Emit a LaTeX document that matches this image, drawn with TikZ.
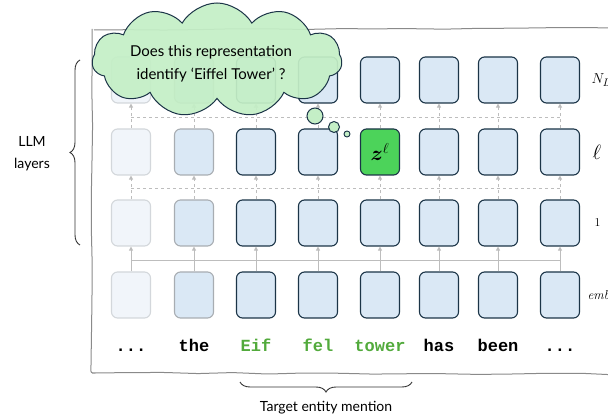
\documentclass[tikz,border=0pt]{standalone}
\usepackage{fontspec}
\usepackage{bm}
\setmonofont{Liberation Mono}
\newfontfamily\sansf[Ligatures=TeX]{Lato}
\usetikzlibrary{shapes.symbols,decorations.pathreplacing,decorations.pathmorphing,arrows.meta}
\definecolor{navy}{HTML}{1B3447}
\definecolor{boxblue}{HTML}{DAE8F5}
\definecolor{fadeblue}{HTML}{F1F5FA}
\definecolor{fadeline}{HTML}{D3D7DB}
\definecolor{midline}{HTML}{A8ADB2}
\definecolor{zgreen}{HTML}{4CD35A}
\definecolor{cloudgreen}{HTML}{C4EFC6}
\definecolor{wordgreen}{HTML}{52AA3C}
\definecolor{linkgray}{HTML}{BDBDBD}
\definecolor{framegray}{HTML}{8A8A8A}
\tikzset{
  cell/.style={rounded corners=6pt, minimum width=39pt, minimum height=46pt, inner sep=0pt, line width=1.1pt},
  cellA/.style={cell, fill=fadeblue, draw=fadeline},
  cellB/.style={cell, fill=boxblue, draw=midline},
  cellC/.style={cell, fill=boxblue, draw=navy},
  cellZ/.style={cell, fill=zgreen, draw=navy},
  link/.style={draw=linkgray, line width=1pt},
  linkdash/.style={link, dash pattern=on 3pt off 3pt},
  uparrow/.style={-{Triangle[length=4pt,width=4pt]}},
  word/.style={font=\fontsize{17}{20}\selectfont\ttfamily\bfseries, anchor=base},
  side/.style={anchor=west, font=\fontsize{15}{17}\selectfont},
  bracecol/.style={draw=black!80, line width=0.9pt},
  sans14/.style={font=\fontsize{14}{22}\selectfont\sansf, align=center},
}
\begin{document}
\begin{tikzpicture}[x=1pt,y=-1pt]
\useasboundingbox (0,0) rectangle (608,419);
\pgfmathsetseed{7}
% frame
\draw[framegray, line width=1pt, decorate, decoration={random steps, segment length=35pt, amplitude=0.7pt}, rounded corners=2pt]
  (92,30) -- (620,28) -- (620,374) -- (92,373) -- cycle;
% columns
\def\xs{131,194,256,318,380,439,498,560}
\foreach \x [count=\c] in \xs {
  \ifnum\c=1 \def\st{cellA}\else\ifnum\c=2 \def\st{cellB}\else\def\st{cellC}\fi\fi
  \node[\st] (e-\c) at (\x,295) {};
  \node[\st] (o-\c) at (\x,223) {};
  \ifnum\c=5
    \node[cellZ] (l-\c) at (\x,152) {\fontsize{20}{22}\selectfont$\bm{z}^{\ell}$};
  \else
    \node[\st] (l-\c) at (\x,152) {};
  \fi
  \node[\st] (n-\c) at (\x,80) {};
}
% horizontal links
\coordinate (h1a) at (131,261); \coordinate (h1b) at (560,261);
\coordinate (h2a) at (131,189); \coordinate (h2b) at (560,189);
\coordinate (h3a) at (131,118); \coordinate (h3b) at (560,118);
\draw[link] (h1a) -- (h1b);
\draw[linkdash] (h2a) -- (h2b);
\draw[linkdash] (h3a) -- (h3b);
% vertical links
\foreach \c in {1,...,8} {
  \draw[link, uparrow] (e-\c) -- (o-\c);
  \draw[linkdash, uparrow] (o-\c) -- (l-\c);
  \draw[linkdash, uparrow] (l-\c) -- (n-\c);
}
% words
\node[word] (w1) at (131,352) {...};
\node[word] (w2) at (194,352) {the};
\node[word, text=wordgreen] (w3) at (256,352) {Eif};
\node[word, text=wordgreen] (w4) at (318,352) {fel};
\node[word, text=wordgreen] (w5) at (380,352) {tower};
\node[word] (w6) at (439,352) {has};
\node[word] (w7) at (498,352) {been};
\node[word] (w8) at (560,352) {...};
% side labels
\node[side] (sNL) at (588,80) {$N_L$};
\node[side, font=\fontsize{22}{24}\selectfont] (sl) at (589,152) {$\ell$};
\node[side, font=\fontsize{12}{14}\selectfont] (s1) at (591,223) {1};
\node[side, font=\fontsize{13}{15}\selectfont\itshape] (se) at (584,295) {emb};
% cloud
\node[cloud, cloud puffs=11, cloud puff arc=120, aspect=2.3, minimum width=250pt, minimum height=114pt,
  draw=navy, line width=1pt, fill=cloudgreen, fill opacity=0.93, inner sep=0pt] (cl) at (217,60) {};
\node[font=\fontsize{15}{23}\selectfont\sansf, align=center] (cltext) at (211,64)
  {Does this representation\\ identify ‘Eiffel Tower’ ?};
\node[circle, draw=navy, line width=1pt, fill=cloudgreen, minimum size=16pt, inner sep=0pt] (b1) at (315,116) {};
\node[circle, draw=navy, line width=1pt, fill=cloudgreen, minimum size=11pt, inner sep=0pt] (b2) at (334,127) {};
\node[circle, draw=navy, line width=0.9pt, fill=cloudgreen, minimum size=6pt, inner sep=0pt] (b3) at (347,134) {};
% braces
\coordinate (lb1) at (80,245); \coordinate (lb2) at (80,60);
\draw[bracecol, decorate, decoration={brace, amplitude=10pt}] (lb1) -- (lb2);
\node[sans14] (llm) at (32,154) {LLM\\layers};
\coordinate (bb1) at (412,382); \coordinate (bb2) at (240,382);
\draw[bracecol, decorate, decoration={brace, amplitude=10pt}] (bb1) -- (bb2);
\node[sans14] (tem) at (326,408) {Target entity mention};
\end{tikzpicture}
\end{document}
